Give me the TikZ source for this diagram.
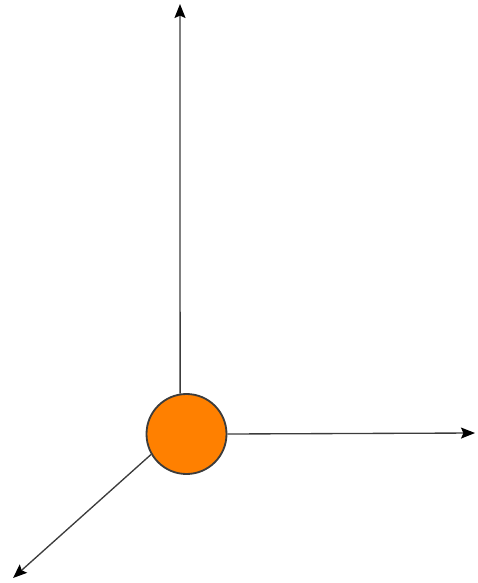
\documentclass[tikz,border=0pt]{standalone}
\usepackage{tikz}
\usetikzlibrary{arrows, arrows.meta, positioning}
\definecolor{ballorange}{RGB}{255,128,0}
\definecolor{axisgray}{RGB}{60,60,60}
\tikzstyle{arrow} = [line width=1.9pt,-{Stealth[length=7mm,width=5.5mm,inset=1.2mm,black]},draw=axisgray]

\begin{document}
\begin{tikzpicture}[
    x=0.5mm, y=-0.5mm,
    ball/.style={circle, draw=axisgray, line width=2.6pt, fill=ballorange, minimum size=80*0.5mm, inner sep=0pt}
]
    \useasboundingbox (0,0) rectangle (477,583);
    \node[ball] (origin) at (186.5,434) {};

    \coordinate (ytip) at (180,4);
    \coordinate (xtip) at (475,433);
    \coordinate (ztip) at (13,578);

    \draw[arrow] (origin.99) -- (ytip);
    \draw[arrow] (origin.east) -- (xtip);
    \draw[arrow] (origin.210) -- (ztip);
\end{tikzpicture}
\end{document}
